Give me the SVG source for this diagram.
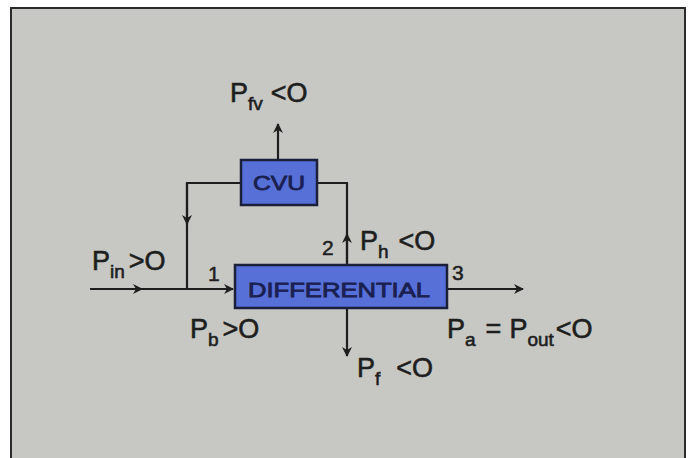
<svg xmlns="http://www.w3.org/2000/svg" width="694" height="458" viewBox="0 0 694 458">
<defs>
<style>
.ln{stroke:#1e1e1e;stroke-width:2.2;fill:none}
.box{fill:#5670d8;stroke:#1a1f3a;stroke-width:2.5}
.lbl{font-family:"Liberation Sans",Arial,sans-serif;font-size:27px;fill:#1e1e1e;stroke:#1e1e1e;stroke-width:0.6}
.sub{font-size:19px}
.num{font-family:"Liberation Sans",Arial,sans-serif;font-size:21px;fill:#1e1e1e;stroke:#1e1e1e;stroke-width:0.5}
.bt{font-family:"Liberation Sans",Arial,sans-serif;font-size:20px;fill:#1a2050;stroke:#1a2050;stroke-width:0.8}
</style>
<marker id="ah" viewBox="0 0 10 10" refX="9" refY="5" markerWidth="10" markerHeight="10" markerUnits="userSpaceOnUse" orient="auto">
<path d="M0,0 L10,5 L0,10 L3,5 z" fill="#1e1e1e"/>
</marker>
</defs>
<rect x="0" y="0" width="694" height="458" fill="#ffffff"/>
<rect x="11" y="8" width="674" height="452" fill="#c7c8c4" stroke="#2a2a2a" stroke-width="2"/>

<g id="connectors">
<line class="ln" x1="90" y1="289" x2="142" y2="289" marker-end="url(#ah)"/>
<line class="ln" x1="140" y1="289" x2="233" y2="289" marker-end="url(#ah)"/>
<polyline class="ln" points="241,183 187,183 187,289"/>
<line class="ln" x1="187" y1="183" x2="187" y2="224" marker-end="url(#ah)"/>
<polyline class="ln" points="317,183 347,183 347,265"/>
<line class="ln" x1="347" y1="265" x2="347" y2="234" marker-end="url(#ah)"/>
<line class="ln" x1="347" y1="308" x2="347" y2="356" marker-end="url(#ah)"/>
<line class="ln" x1="278" y1="160" x2="278" y2="124" marker-end="url(#ah)"/>
<line class="ln" x1="447" y1="289" x2="523" y2="289" marker-end="url(#ah)"/>
</g>

<g id="cvu">
<rect class="box" x="241" y="160" width="76" height="45"/>
<text class="bt" x="279" y="190" text-anchor="middle" textLength="52" lengthAdjust="spacingAndGlyphs">CVU</text>
</g>

<g id="differential">
<rect class="box" x="235" y="265" width="212" height="43"/>
<text class="bt" x="248" y="297" textLength="182" lengthAdjust="spacingAndGlyphs">DIFFERENTIAL</text>
</g>

<g id="labels">
<text class="lbl" x="230" y="102">P<tspan class="sub" dy="8">fv</tspan><tspan dy="-8" dx="8">&lt;O</tspan></text>
<text class="lbl" x="92" y="270">P<tspan class="sub" dy="8">in</tspan><tspan dy="-8" dx="4">&gt;O</tspan></text>
<text class="num" x="208" y="281">1</text>
<text class="num" x="322" y="255">2</text>
<text class="num" x="452" y="280">3</text>
<text class="lbl" x="360" y="250">P<tspan class="sub" dy="8">h</tspan><tspan dy="-8" dx="10">&lt;O</tspan></text>
<text class="lbl" x="190" y="338">P<tspan class="sub" dy="8">b</tspan><tspan dy="-8" dx="4">&gt;O</tspan></text>
<text class="lbl" x="357" y="377">P<tspan class="sub" dy="8">f</tspan><tspan dy="-8" dx="16">&lt;O</tspan></text>
<text class="lbl" x="447" y="338">P<tspan class="sub" dy="8">a</tspan><tspan dy="-8" dx="10">=</tspan><tspan dx="8">P</tspan><tspan class="sub" dy="8">out</tspan><tspan dy="-8" dx="2">&lt;O</tspan></text>
</g>
</svg>
